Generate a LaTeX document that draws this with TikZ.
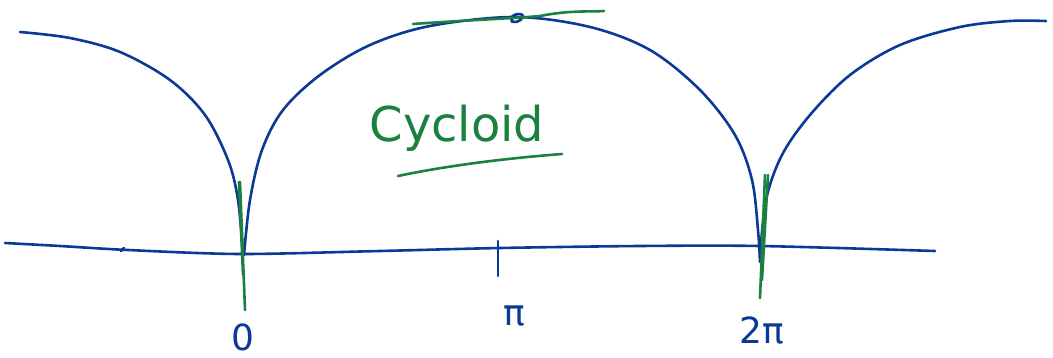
\documentclass[tikz,border=0pt]{standalone}
\usepackage{fontspec}
\setmainfont{DejaVu Sans}
\definecolor{ink}{HTML}{0B3A96}
\definecolor{pen}{HTML}{1B8040}
\begin{document}
\begin{tikzpicture}[x=1pt,y=-1pt,
  blue ink/.style={draw=ink,line width=2.6pt,line cap=round,line join=round},
  green ink/.style={draw=pen,line width=2.6pt,line cap=round,line join=round},
  lbl/.style={text=ink,font=\fontsize{36}{36}\selectfont,inner sep=0pt}]
\useasboundingbox (0,0) rectangle (1053,358);
% axis
\draw[blue ink] plot[smooth,tension=0.5] coordinates{(5,243) (60,246) (128,250) (240,254) (380,251) (500,248) (640,246) (760,246) (935,251)};
\draw[blue ink] (121,251) -- (124,248);
% tick at pi
\coordinate (pitop) at (498,241);
\coordinate (pibot) at (498,276);
\draw[blue ink] (pitop) -- (pibot);
% cycloid arches
\draw[blue ink] plot[smooth,tension=0.55] coordinates{(20,32) (70,38) (120,52) (170,80) (205,115) (228,160) (238,200) (243,255)};
\draw[blue ink] plot[smooth,tension=0.55] coordinates{(244,255) (250,200) (262,150) (283,110) (320,75) (370,45) (430,26) (515,17) (590,27) (650,50) (700,90) (735,135) (752,180) (758,230) (760,262)};
\draw[blue ink] plot[smooth,tension=0.55] coordinates{(760,258) (766,200) (782,155) (810,115) (850,75) (900,45) (960,27) (1010,21) (1046,21)};
% loop at top
\draw[blue ink] (512,22) .. controls (508,14) and (522,12) .. (523,16) .. controls (522,22) and (512,24) .. (512,20);
% green marks
\draw[green ink] (413,24) .. controls (470,20) and (520,18) .. (540,16) .. controls (570,10) and (590,12) .. (604,11);
\draw[green ink] (240,182) -- (245,310);
\draw[green ink] (239,182) -- (243,275);
\draw[green ink] (765,175) -- (760,298);
\draw[green ink] (768,175) -- (762,280);
\draw[green ink] (398,176) .. controls (450,165) and (510,158) .. (562,154);
% labels
\node[text=pen,font=\fontsize{48}{48}\selectfont,inner sep=0pt] (cyc) at (457,128) {Cycloid};
\node[lbl] (zero) at (243,337) {0};
\node[lbl] (pi) at (514,316) {π};
\node[lbl] (twopi) at (762,330) {2π};
\end{tikzpicture}
\end{document}
